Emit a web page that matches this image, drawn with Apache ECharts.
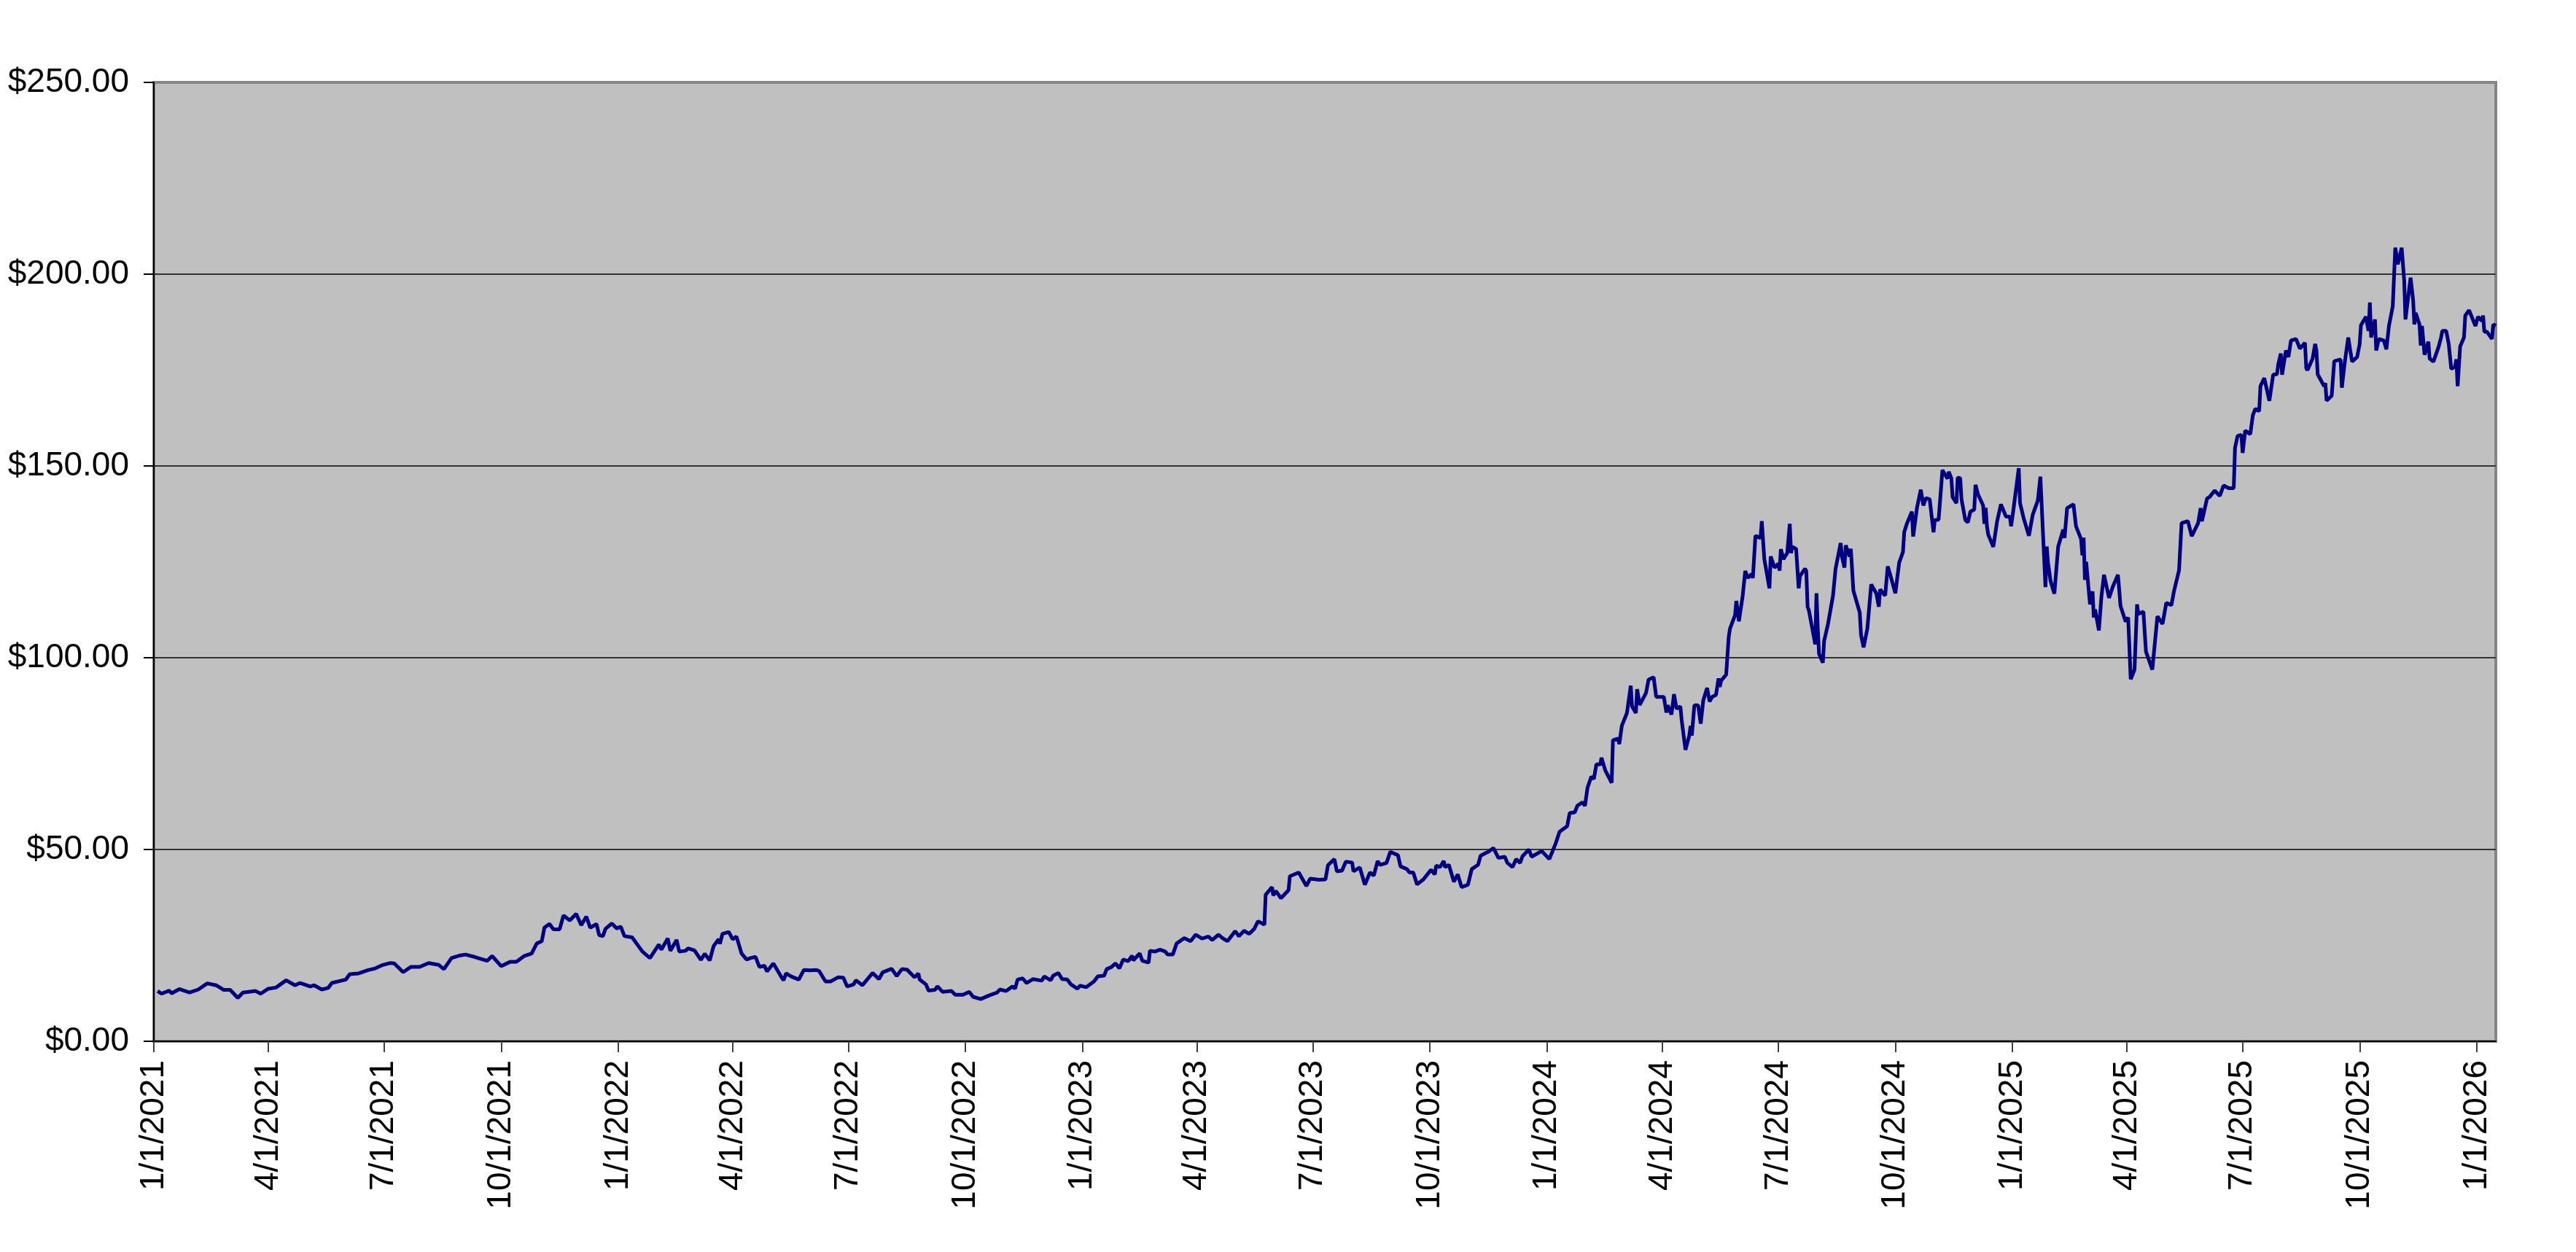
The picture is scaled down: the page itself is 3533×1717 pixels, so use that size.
<!DOCTYPE html>
<html>
<head>
<meta charset="utf-8">
<script src="https://cdn.jsdelivr.net/npm/echarts@6.0.0/dist/echarts.min.js"></script>
<style>
html,body{margin:0;padding:0;background:#ffffff;}
#chart{width:3533px;height:1717px;}
</style>
</head>
<body>
<div id="chart"></div>
<script>
// ---- tick labels ----
const yTicks = [0, 50, 100, 150, 200, 250];
const quarterTicks = [
  '2021-01-01','2021-04-01','2021-07-01','2021-10-01',
  '2022-01-01','2022-04-01','2022-07-01','2022-10-01',
  '2023-01-01','2023-04-01','2023-07-01','2023-10-01',
  '2024-01-01','2024-04-01','2024-07-01','2024-10-01',
  '2025-01-01','2025-04-01','2025-07-01','2025-10-01',
  '2026-01-01'
];
const axisStart = '2021-01-01';
const axisEnd = '2026-01-16';

// ---- price series (date, close) ----
const prices2021 = [
['2021-01-04',13.1],['2021-01-07',12.4],['2021-01-13',13.2],['2021-01-15',12.5],['2021-01-21',13.6],['2021-01-29',12.7],
['2021-02-05',13.5],['2021-02-12',15.1],['2021-02-19',14.6],['2021-02-25',13.4],['2021-03-02',13.4],['2021-03-08',11.3],
['2021-03-12',12.7],['2021-03-22',13.1],['2021-03-26',12.4],['2021-04-01',13.7],['2021-04-07',14.0],['2021-04-15',15.9],
['2021-04-22',14.6],['2021-04-26',15.2],['2021-05-04',14.3],['2021-05-07',14.6],['2021-05-13',13.5],['2021-05-18',13.9],
['2021-05-21',15.2],['2021-06-01',16.1],['2021-06-04',17.5],['2021-06-11',17.7],['2021-06-18',18.5],['2021-06-24',19.0],
['2021-06-30',19.9],['2021-07-06',20.4],['2021-07-09',20.3],['2021-07-16',18.0],['2021-07-22',19.4],['2021-07-29',19.4],
['2021-08-05',20.4],['2021-08-13',19.9],['2021-08-17',18.8],['2021-08-23',21.7],['2021-08-30',22.4],['2021-09-03',22.6],
['2021-09-10',22.0],['2021-09-20',21.0],['2021-09-24',22.2],['2021-10-01',19.6],['2021-10-08',20.7],['2021-10-13',20.7],
['2021-10-19',22.2],['2021-10-25',22.9],['2021-10-29',25.5],['2021-11-02',26.1],['2021-11-04',29.6],['2021-11-08',30.6],
['2021-11-11',29.2],['2021-11-16',29.2],['2021-11-19',32.8],['2021-11-24',31.5],['2021-11-29',33.2],['2021-12-03',30.3],
['2021-12-07',32.5],['2021-12-10',29.6],['2021-12-15',30.6],['2021-12-17',27.7],['2021-12-20',27.4],['2021-12-22',29.3],
['2021-12-27',30.7],['2021-12-31',29.4]
];
const prices2022 = [
['2022-01-03',29.9],['2022-01-06',27.4],['2022-01-12',27.1],['2022-01-20',23.4],['2022-01-26',21.7],['2022-02-02',25.2],
['2022-02-04',23.9],['2022-02-09',26.8],['2022-02-11',23.6],['2022-02-16',26.4],['2022-02-18',23.4],['2022-02-23',23.6],
['2022-02-25',24.2],['2022-03-02',23.7],['2022-03-07',21.2],['2022-03-10',22.8],['2022-03-14',21.1],['2022-03-17',24.8],
['2022-03-21',26.6],['2022-03-22',25.4],['2022-03-24',28.0],['2022-03-29',28.5],['2022-04-01',26.6],['2022-04-04',27.3],
['2022-04-08',22.9],['2022-04-12',21.3],['2022-04-15',21.7],['2022-04-19',22.0],['2022-04-22',19.4],['2022-04-26',19.7],
['2022-04-28',18.2],['2022-05-03',20.3],['2022-05-09',16.9],['2022-05-11',15.9],['2022-05-13',17.7],['2022-05-17',16.9],
['2022-05-23',16.1],['2022-05-27',18.6],['2022-06-01',18.5],['2022-06-06',18.6],['2022-06-08',18.3],['2022-06-13',15.6],
['2022-06-17',15.6],['2022-06-23',16.7],['2022-06-27',16.6],['2022-06-30',14.3],['2022-07-05',14.8],['2022-07-07',15.9],
['2022-07-12',14.6],['2022-07-15',15.8],['2022-07-20',17.8],['2022-07-25',16.2],['2022-07-28',18.0],['2022-08-04',18.9],
['2022-08-08',17.0],['2022-08-12',18.8],['2022-08-16',18.7],['2022-08-22',16.7],['2022-08-25',17.7],['2022-08-26',16.1],
['2022-08-31',14.8],['2022-09-02',13.2],['2022-09-07',13.4],['2022-09-09',14.3],['2022-09-13',12.9],['2022-09-20',13.1],
['2022-09-23',12.1],['2022-09-29',12.1],['2022-10-04',12.9],['2022-10-07',11.6],['2022-10-13',11.0],['2022-10-20',12.0],
['2022-10-26',12.7],['2022-10-28',13.5],['2022-11-02',13.1],['2022-11-07',14.3],['2022-11-09',13.7],['2022-11-11',16.1],
['2022-11-15',16.4],['2022-11-18',15.2],['2022-11-23',16.2],['2022-11-30',15.8],['2022-12-02',16.9],['2022-12-07',15.9],
['2022-12-09',17.1],['2022-12-13',17.8],['2022-12-16',16.2],['2022-12-20',16.1],['2022-12-23',14.8],['2022-12-28',13.7],
['2022-12-30',14.5]
];
const prices2023 = [
['2023-01-04',14.1],['2023-01-10',15.6],['2023-01-13',16.9],['2023-01-18',17.1],['2023-01-20',18.8],['2023-01-24',19.4],
['2023-01-27',20.3],['2023-01-30',19.0],['2023-02-02',21.3],['2023-02-06',20.9],['2023-02-09',22.3],['2023-02-10',21.1],
['2023-02-15',22.9],['2023-02-17',21.0],['2023-02-22',20.5],['2023-02-23',23.6],['2023-02-27',23.4],['2023-03-03',23.9],
['2023-03-07',23.4],['2023-03-09',22.6],['2023-03-13',22.6],['2023-03-16',25.5],['2023-03-22',26.9],['2023-03-27',26.1],
['2023-03-31',27.8],['2023-04-05',26.8],['2023-04-10',27.3],['2023-04-13',26.4],['2023-04-18',27.8],['2023-04-21',26.9],
['2023-04-25',26.1],['2023-05-01',28.7],['2023-05-04',27.4],['2023-05-08',28.8],['2023-05-12',28.0],['2023-05-16',29.3],
['2023-05-19',31.3],['2023-05-24',30.4],['2023-05-25',38.2],['2023-05-30',40.2],['2023-05-31',38.0],['2023-06-02',39.2],
['2023-06-06',37.3],['2023-06-12',39.4],['2023-06-13',43.0],['2023-06-20',44.0],['2023-06-26',40.5],['2023-06-29',42.4],
['2023-07-06',42.1],['2023-07-11',42.2],['2023-07-13',45.9],['2023-07-18',47.5],['2023-07-20',44.3],['2023-07-24',44.5],
['2023-07-27',46.8],['2023-08-01',46.6],['2023-08-02',44.3],['2023-08-07',45.3],['2023-08-11',40.8],['2023-08-15',44.0],
['2023-08-18',43.2],['2023-08-21',47.0],['2023-08-23',46.0],['2023-08-28',46.5],['2023-08-31',49.4],['2023-09-06',48.5],
['2023-09-08',45.6],['2023-09-13',44.9],['2023-09-15',44.0],['2023-09-18',44.0],['2023-09-21',40.9],['2023-09-26',42.2],
['2023-10-02',44.7],['2023-10-05',43.5],['2023-10-06',45.8],['2023-10-09',45.4],['2023-10-12',47.0],['2023-10-13',45.4],
['2023-10-16',46.0],['2023-10-20',41.6],['2023-10-23',43.5],['2023-10-26',40.2],['2023-10-31',40.8],['2023-11-03',44.9],
['2023-11-08',46.0],['2023-11-10',48.4],['2023-11-14',49.1],['2023-11-16',49.4],['2023-11-20',50.4],['2023-11-24',47.8],
['2023-11-29',48.1],['2023-12-01',46.5],['2023-12-05',45.4],['2023-12-08',47.5],['2023-12-11',46.5],['2023-12-13',48.3],
['2023-12-18',50.0],['2023-12-20',48.1],['2023-12-28',49.6]
];
const prices2024 = [
['2024-01-03',47.5],['2024-01-08',51.6],['2024-01-11',54.6],['2024-01-17',56.1],['2024-01-19',59.5],['2024-01-23',59.7],
['2024-01-25',61.4],['2024-01-29',62.3],['2024-01-31',61.4],['2024-02-02',66.1],['2024-02-05',69.0],['2024-02-07',68.4],
['2024-02-09',72.2],['2024-02-12',72.2],['2024-02-13',73.9],['2024-02-16',70.6],['2024-02-21',67.4],['2024-02-22',78.5],
['2024-02-26',78.9],['2024-02-27',77.5],['2024-02-29',82.3],['2024-03-04',85.6],['2024-03-07',92.7],['2024-03-08',87.3],
['2024-03-11',85.6],['2024-03-12',91.8],['2024-03-14',87.7],['2024-03-15',88.0],['2024-03-19',90.8],['2024-03-21',94.3],
['2024-03-25',94.9],['2024-03-27',89.8],['2024-04-02',89.8],['2024-04-04',85.7],['2024-04-05',87.6],['2024-04-08',85.2],
['2024-04-10',90.5],['2024-04-12',86.7],['2024-04-15',87.3],['2024-04-16',83.8],['2024-04-19',76.0],['2024-04-22',79.7],
['2024-04-23',82.2],['2024-04-24',79.7],['2024-04-26',87.6],['2024-04-29',87.6],['2024-05-01',82.8],['2024-05-03',88.9],
['2024-05-06',92.1],['2024-05-08',88.6],['2024-05-10',89.8],['2024-05-13',90.3],['2024-05-15',94.6],['2024-05-16',92.4],
['2024-05-17',94.0],['2024-05-21',95.6],['2024-05-23',105.4],['2024-05-24',107.6],['2024-05-28',111.1],['2024-05-29',114.8],
['2024-05-31',109.5],['2024-06-03',116.2],['2024-06-05',122.6],['2024-06-07',120.8],['2024-06-10',121.8],['2024-06-11',120.8],
['2024-06-13',131.8],['2024-06-17',131.2],['2024-06-18',135.6],['2024-06-20',125.7],['2024-06-24',118.1],['2024-06-25',126.4],
['2024-06-28',123.5],['2024-07-01',124.5],['2024-07-02',122.7],['2024-07-03',128.3],['2024-07-05',125.7],['2024-07-08',127.3],
['2024-07-10',134.9],['2024-07-11',127.3],['2024-07-12',128.9],['2024-07-15',128.4],['2024-07-17',118.1],['2024-07-18',121.3],
['2024-07-22',123.2],['2024-07-23',122.6],['2024-07-24',113.3],['2024-07-25',112.4],['2024-07-30',103.5],['2024-07-31',116.8],
['2024-08-01',107.9],['2024-08-02',101.0],['2024-08-05',98.7],['2024-08-06',104.4],['2024-08-09',108.7],['2024-08-13',116.2],
['2024-08-15',123.2],['2024-08-19',129.9],['2024-08-20',126.4],['2024-08-22',123.5],['2024-08-23',129.3],['2024-08-26',126.4],
['2024-08-27',128.4],['2024-08-29',117.5],['2024-09-03',111.8],['2024-09-04',106.0],['2024-09-06',102.7],['2024-09-09',107.6],
['2024-09-12',119.1],['2024-09-13',119.1],['2024-09-16',116.8],['2024-09-18',113.3],['2024-09-19',117.8],['2024-09-23',116.2],
['2024-09-25',123.8],['2024-09-27',121.6],['2024-10-01',116.8],['2024-10-04',124.8],['2024-10-07',127.6],['2024-10-08',132.8],
['2024-10-10',134.9],['2024-10-14',138.1],['2024-10-15',131.6],['2024-10-18',139.1],['2024-10-21',143.8],['2024-10-23',139.7],
['2024-10-25',141.6],['2024-10-28',141.3],['2024-10-31',132.7],['2024-11-01',135.9],['2024-11-04',136.0],['2024-11-07',148.9],
['2024-11-11',146.7],['2024-11-12',148.5],['2024-11-14',146.8],['2024-11-15',141.9],['2024-11-18',140.3],['2024-11-19',147.0],
['2024-11-21',146.8],['2024-11-22',141.3],['2024-11-25',135.9],['2024-11-27',135.3],['2024-11-29',138.1],['2024-12-02',138.6],
['2024-12-03',145.1],['2024-12-05',142.6],['2024-12-09',139.7],['2024-12-10',134.9],['2024-12-11',139.1],['2024-12-12',134.3],
['2024-12-13',132.1],['2024-12-17',128.9],['2024-12-20',135.6],['2024-12-23',140.0],['2024-12-24',140.2],['2024-12-27',136.8],
['2024-12-30',136.8],['2024-12-31',134.3]
];
const prices2025 = [
['2025-01-02',139.1],['2025-01-06',149.4],['2025-01-07',140.3],['2025-01-10',136.2],['2025-01-14',131.8],['2025-01-17',137.3],
['2025-01-21',141.0],['2025-01-23',147.2],['2025-01-27',118.4],['2025-01-28',129.0],['2025-01-29',124.8],['2025-01-31',120.0],
['2025-02-03',116.7],['2025-02-06',129.0],['2025-02-10',133.4],['2025-02-11',131.2],['2025-02-13',139.0],['2025-02-18',140.0],
['2025-02-20',134.3],['2025-02-24',130.9],['2025-02-25',126.7],['2025-02-26',131.3],['2025-02-27',120.3],['2025-02-28',125.0],
['2025-03-03',113.9],['2025-03-05',117.3],['2025-03-06',110.5],['2025-03-07',112.6],['2025-03-10',107.1],['2025-03-12',116.0],
['2025-03-14',121.6],['2025-03-18',115.6],['2025-03-21',118.6],['2025-03-25',121.6],['2025-03-27',113.5],['2025-03-31',109.4],
['2025-04-02',110.5],['2025-04-04',94.4],['2025-04-07',96.9],['2025-04-09',113.9],['2025-04-10',111.4],['2025-04-14',112.0],
['2025-04-16',101.6],['2025-04-21',96.9],['2025-04-25',110.8],['2025-04-29',108.8],['2025-05-02',114.3],['2025-05-06',113.7],
['2025-05-08',117.3],['2025-05-12',122.8],['2025-05-14',135.1],['2025-05-19',135.6],['2025-05-22',131.7],['2025-05-27',135.1],
['2025-05-29',139.0],['2025-05-30',135.6],['2025-06-03',141.5],['2025-06-05',141.9],['2025-06-09',143.6],['2025-06-13',142.2],
['2025-06-16',144.9],['2025-06-20',144.2],['2025-06-24',144.2],['2025-06-25',154.7],['2025-06-27',157.8],['2025-06-30',158.1],
['2025-07-01',153.4],['2025-07-03',159.2],['2025-07-07',158.3],['2025-07-09',163.2],['2025-07-11',164.9],['2025-07-14',164.3],
['2025-07-15',170.8],['2025-07-18',172.9],['2025-07-22',167.0],['2025-07-25',173.8],['2025-07-28',173.9],['2025-07-29',176.5],
['2025-07-31',179.3],['2025-08-01',173.8],['2025-08-04',180.1],['2025-08-06',178.4],['2025-08-08',182.7],['2025-08-12',183.1],
['2025-08-15',180.6],['2025-08-19',182.1],['2025-08-20',175.5],['2025-08-21',175.0],['2025-08-25',178.0],['2025-08-27',181.8],
['2025-08-28',180.1],['2025-08-29',173.9],['2025-09-03',170.8],['2025-09-04',171.6],['2025-09-05',167.0],['2025-09-09',168.3],
['2025-09-11',177.3],['2025-09-16',177.8],['2025-09-17',170.4],['2025-09-19',176.3],['2025-09-22',183.5],['2025-09-25',177.2],
['2025-09-29',178.4],['2025-10-01',181.8],['2025-10-02',186.7],['2025-10-06',188.9],['2025-10-07',186.9],['2025-10-08',185.2],
['2025-10-09',192.6],['2025-10-10',183.5],['2025-10-13',188.2],['2025-10-14',180.1],['2025-10-16',183.1],['2025-10-20',182.7],
['2025-10-22',180.4],['2025-10-24',186.5],['2025-10-27',191.6],['2025-10-29',206.9],['2025-10-31',202.6],['2025-11-03',206.9],
['2025-11-05',198.4],['2025-11-06',188.2],['2025-11-07',188.2],['2025-11-10',199.1],['2025-11-12',193.3],['2025-11-13',186.9],
['2025-11-14',189.9],['2025-11-17',186.9],['2025-11-18',181.4],['2025-11-19',186.5],['2025-11-21',179.0],['2025-11-24',182.4],
['2025-11-25',178.0],['2025-11-28',177.2],['2025-12-02',181.0],['2025-12-04',183.5],['2025-12-05',185.2],['2025-12-08',185.2],
['2025-12-10',181.8],['2025-12-12',175.3],['2025-12-15',175.9],['2025-12-16',177.8],['2025-12-17',170.8],['2025-12-19',181.2],
['2025-12-22',183.5],['2025-12-23',189.2],['2025-12-26',190.6],['2025-12-31',186.5]
];
const prices2026 = [
['2026-01-02',188.9],['2026-01-05',187.8],['2026-01-06',189.2],['2026-01-07',185.0],['2026-01-09',185.0],['2026-01-13',183.1],
['2026-01-14',186.9],['2026-01-16',186.5]
];

function ts(s) {
  const p = s.split('-').map(Number);
  return new Date(p[0], p[1] - 1, p[2]).getTime();
}
function fmtDate(v) {
  const d = new Date(v);
  return (d.getMonth() + 1) + '/' + d.getDate() + '/' + d.getFullYear();
}

const allPrices = [].concat(prices2021, prices2022, prices2023, prices2024, prices2025, prices2026)
  .map(function (p) { return [ts(p[0]), p[1]]; });
const quarterTs = quarterTicks.map(ts);

const FONT = '"Liberation Sans", Arial, sans-serif';

const chart = echarts.init(document.getElementById('chart'), null, { renderer: 'canvas' });
chart.setOption({
  animation: false,
  backgroundColor: '#ffffff',
  grid: {
    left: 211, right: 110, top: 113, bottom: 289,
    show: true,
    backgroundColor: '#C0C0C0',
    borderColor: '#868686',
    borderWidth: 4
  },
  xAxis: {
    type: 'value',
    min: ts(axisStart),
    max: ts(axisEnd),
    scale: true,
    axisLine: { show: true, onZero: false, lineStyle: { color: '#000000', width: 2 } },
    axisTick: { show: true, length: 15, lineStyle: { color: '#404040', width: 2 }, customValues: quarterTs },
    axisLabel: {
      rotate: 90, margin: 26, fontSize: 46, fontFamily: FONT, color: '#000000',
      customValues: quarterTs,
      formatter: fmtDate
    },
    splitLine: { show: false }
  },
  yAxis: {
    type: 'value',
    min: yTicks[0],
    max: yTicks[yTicks.length - 1],
    interval: 50,
    axisLine: { show: true, lineStyle: { color: '#000000', width: 2 } },
    axisTick: { show: true, length: 14, lineStyle: { color: '#000000', width: 2 } },
    axisLabel: {
      margin: 34, fontSize: 46, fontFamily: FONT, color: '#000000',
      formatter: function (v) { return '$' + v.toFixed(2); }
    },
    splitLine: { show: true, showMaxLine: false, showMinLine: false, lineStyle: { color: '#333333', width: 2 } }
  },
  series: [{
    type: 'line',
    data: allPrices,
    showSymbol: false,
    symbol: 'none',
    silent: true,
    lineStyle: { color: '#000080', width: 5 },
    itemStyle: { color: '#000080' }
  }]
});
</script>
</body>
</html>
